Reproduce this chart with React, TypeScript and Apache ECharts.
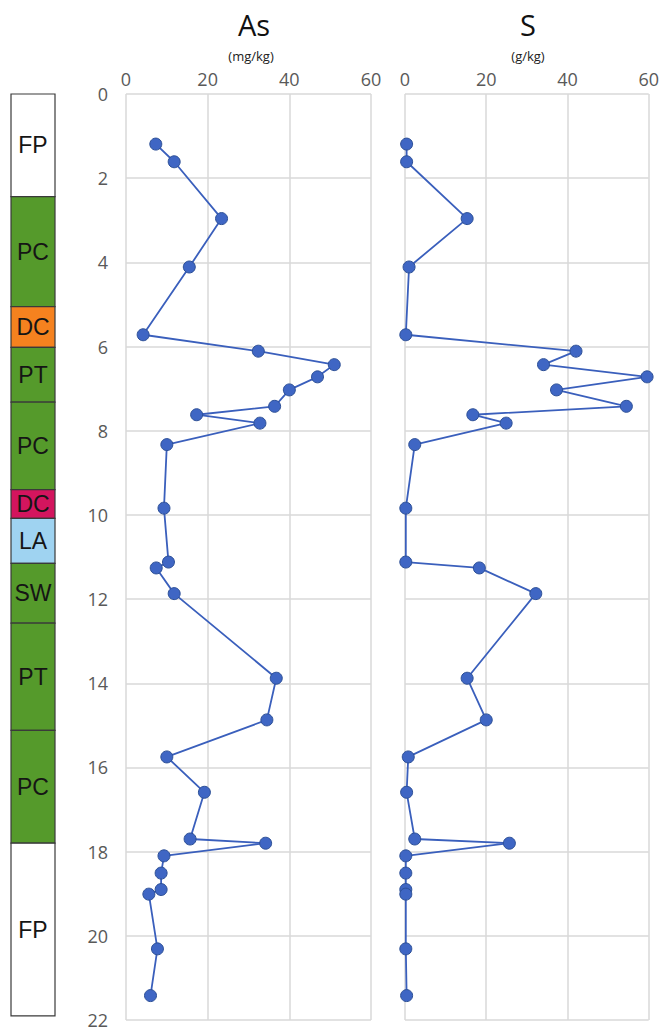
import React, { useEffect, useRef } from "react";
import * as echarts from "echarts";

// Sample depths (m), shared by both profiles
const depth = [1.19, 1.61, 2.96, 4.11, 5.72, 6.11, 6.43, 6.72, 7.03, 7.42, 7.62, 7.82, 8.33, 9.84, 11.12, 11.26, 11.87, 13.88, 14.87, 15.75, 16.59, 17.7, 17.8, 18.1, 18.51, 18.9, 19.01, 20.31, 21.42];
// As (mg/kg)
const asValues = [7.3, 11.8, 23.4, 15.5, 4.2, 32.4, 51.0, 46.9, 40.0, 36.4, 17.3, 32.8, 10.0, 9.3, 10.4, 7.4, 11.8, 36.8, 34.5, 10.0, 19.2, 15.7, 34.2, 9.3, 8.6, 8.6, 5.6, 7.7, 6.0];
// S (g/kg)
const sValues = [0.4, 0.4, 15.3, 1.0, 0.2, 42.1, 34.1, 59.6, 37.3, 54.5, 16.7, 24.9, 2.4, 0.2, 0.2, 18.3, 32.2, 15.3, 20.0, 0.8, 0.4, 2.4, 25.7, 0.2, 0.2, 0.2, 0.2, 0.2, 0.4];

// Stratigraphic units
const strataTop = [0, 2.44, 5.05, 6.02, 7.32, 9.4, 10.08, 11.15, 12.57, 15.12, 17.8];
const strataBottom = [2.44, 5.05, 6.02, 7.32, 9.4, 10.08, 11.15, 12.57, 15.12, 17.8, 21.9];
const strataLabel = ["FP", "PC", "DC", "PT", "PC", "DC", "LA", "SW", "PT", "PC", "FP"];
const strataColor = ["#ffffff", "#559a2b", "#f5821f", "#559a2b", "#559a2b", "#d3155e", "#9fd3f1", "#559a2b", "#559a2b", "#559a2b", "#ffffff"];

const xTicks = { min: 0, max: 60, interval: 20 };
const yTicks = { min: 0, max: 22, interval: 2 };

const GRID_TOP = 94;
const GRID_H = 926;
const LABEL_COLOR = "#595959";
const GRID_COLOR = "#d9d9d9";
const LINE_COLOR = "#3a5fbc";

export default function App() {
  const ref = useRef<HTMLDivElement>(null);
  useEffect(() => {
    if (!ref.current) return;
    const chart = echarts.init(ref.current, undefined, { renderer: "svg" });

    const valueX = (gridIndex: number) => ({
      type: "value",
      gridIndex,
      position: "top",
      min: xTicks.min,
      max: xTicks.max,
      interval: xTicks.interval,
      axisLine: { show: false },
      axisTick: { show: false },
      axisLabel: { color: LABEL_COLOR, fontSize: 18, fontFamily: "Open Sans", margin: 6 },
      splitLine: { show: true, lineStyle: { color: GRID_COLOR, width: 1.5 } },
    });
    const valueY = (gridIndex: number, showLabels: boolean) => ({
      type: "value",
      gridIndex,
      inverse: true,
      min: yTicks.min,
      max: yTicks.max,
      interval: yTicks.interval,
      axisLine: { show: false },
      axisTick: { show: false },
      axisLabel: { show: showLabels, color: LABEL_COLOR, fontSize: 18, fontFamily: "Open Sans", margin: 18 },
      splitLine: { show: true, lineStyle: { color: GRID_COLOR, width: 1.5 } },
    });

    const lineSeries = (values: number[], idx: number) => ({
      type: "line",
      xAxisIndex: idx,
      yAxisIndex: idx,
      data: depth.map((d, i) => [values[i], d]),
      symbol: "circle",
      symbolSize: 12,
      lineStyle: { color: LINE_COLOR, width: 1.8 },
      itemStyle: { color: "#3f66c4", borderColor: "#2c4f96", borderWidth: 1 },
      z: 5,
    });

    chart.setOption({
      animation: false,
      backgroundColor: "#ffffff",
      grid: [
        { left: 11, width: 44, top: GRID_TOP, height: GRID_H },
        { left: 126, width: 245, top: GRID_TOP, height: GRID_H },
        { left: 405, width: 245, top: GRID_TOP, height: GRID_H },
      ],
      xAxis: [
        { type: "value", gridIndex: 0, min: 0, max: 1, show: false },
        valueX(1),
        valueX(2),
      ],
      yAxis: [
        { type: "value", gridIndex: 0, min: yTicks.min, max: yTicks.max, inverse: true, show: false },
        valueY(1, true),
        valueY(2, false),
      ],
      graphic: [
        { type: "text", x: 254, y: 24, style: { text: "As", font: '29px "Open Sans"', fill: "#111", align: "center", verticalAlign: "middle" } },
        { type: "text", x: 251, y: 56, style: { text: "(mg/kg)", font: '13px "Open Sans"', fill: "#222", align: "center", verticalAlign: "middle" } },
        { type: "text", x: 528, y: 24, style: { text: "S", font: '29px "Open Sans"', fill: "#111", align: "center", verticalAlign: "middle" } },
        { type: "text", x: 528, y: 56, style: { text: "(g/kg)", font: '13px "Open Sans"', fill: "#222", align: "center", verticalAlign: "middle" } },
      ],
      series: [
        {
          type: "custom",
          xAxisIndex: 0,
          yAxisIndex: 0,
          data: strataTop.map((t, i) => [t, strataBottom[i]]),
          encode: { y: [0, 1] },
          renderItem: (params: any, api: any) => {
            const i = params.dataIndex;
            const p0 = api.coord([0, api.value(0)]);
            const p1 = api.coord([1, api.value(1)]);
            return {
              type: "group",
              children: [
                {
                  type: "rect",
                  shape: { x: p0[0], y: p0[1], width: p1[0] - p0[0], height: p1[1] - p0[1] },
                  style: { fill: strataColor[i], stroke: "#3a3a3a", lineWidth: 1.2 },
                },
                {
                  type: "text",
                  style: {
                    text: strataLabel[i],
                    x: (p0[0] + p1[0]) / 2,
                    y: (p0[1] + p1[1]) / 2,
                    align: "center",
                    verticalAlign: "middle",
                    font: '23px "Liberation Sans"',
                    fill: "#151515",
                  },
                },
              ],
            };
          },
        },
        lineSeries(asValues, 1),
        lineSeries(sValues, 2),
      ],
    });
    return () => chart.dispose();
  }, []);
  return <div ref={ref} style={{ position: "fixed", left: 0, top: 0, width: 662, height: 1033 }} />;
}
